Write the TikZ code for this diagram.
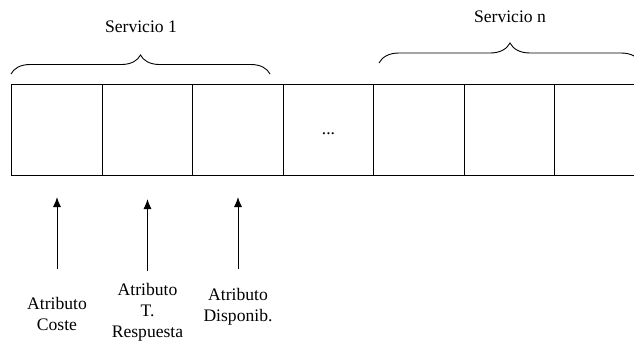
\documentclass[tikz,border=0pt]{standalone}
\usepackage{fontspec}
\setmainfont{Liberation Serif}
\usetikzlibrary{arrows.meta,decorations.pathreplacing}
\begin{document}
\begin{tikzpicture}[x=1pt,y=-1pt,
  cell/.style={draw, line width=0.9pt, minimum width=90.5pt, minimum height=91pt, inner sep=0pt},
  lbl/.style={align=center, font=\fontsize{17.6}{21}\selectfont, inner sep=0pt},
  attr/.style={-{Latex[length=10pt,width=8pt]}, line width=1pt},
  svcbrace/.style={decorate, decoration={brace, amplitude=19pt}, line width=0.9pt}]
\useasboundingbox (0,0) rectangle (634,343);
\begin{scope}
\clip (0,0) rectangle (634,343);
% row of attribute cells
\foreach \i in {1,...,7}{
  \node[cell] (c\i) at ({11.7+90.5*(\i-0.5)},130) {};
}
\node[lbl] (dots) at (c4.center) [yshift=-4pt] {...};
% service braces
\coordinate (b1l) at (11,74);
\coordinate (b1r) at (270,74);
\draw[svcbrace] (b1l) -- (b1r);
\coordinate (b2l) at (379,63);
\coordinate (b2r) at (641,63);
\draw[svcbrace, decoration={amplitude=20pt}] (b2l) -- (b2r);
\end{scope}
\node[lbl] (s1) at (141,27) {Servicio 1};
\node[lbl] (sn) at (510,17) {Servicio n};
% attribute labels and arrows
\node[lbl] (a1) at (57,313.5) {Atributo\\Coste};
\node[lbl] (a2) at (147.5,312) {Atributo\\T.\\Respuesta};
\node[lbl] (a3) at (238,306.5) {Atributo\\Disponib.};
\coordinate (a1s) at (57,269);
\coordinate (a1e) at (57,197);
\coordinate (a2s) at (147.5,271);
\coordinate (a2e) at (147.5,199);
\coordinate (a3s) at (238,269);
\coordinate (a3e) at (238,197);
\draw[attr] (a1s) -- (a1e);
\draw[attr] (a2s) -- (a2e);
\draw[attr] (a3s) -- (a3e);
\end{tikzpicture}
\end{document}
